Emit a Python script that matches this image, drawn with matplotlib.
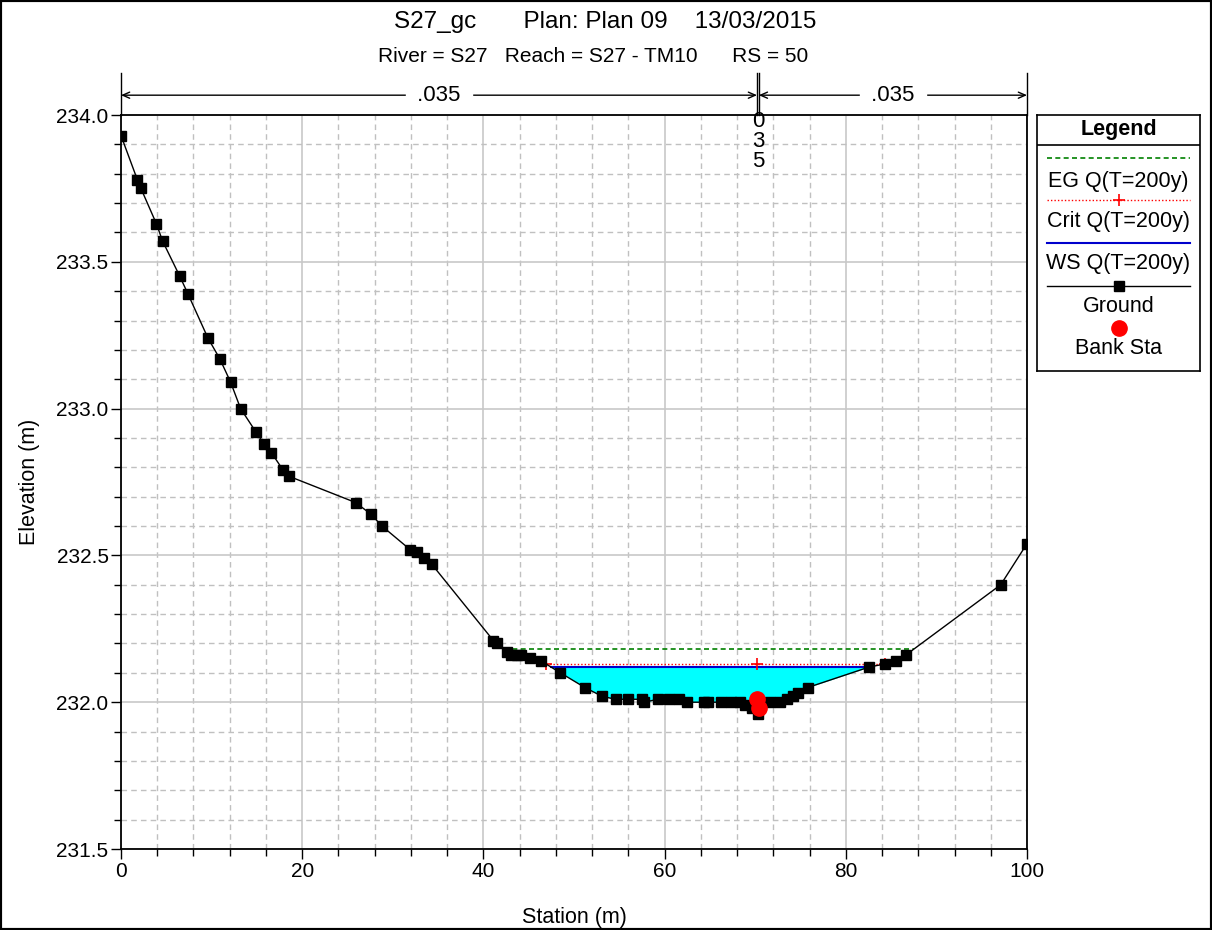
import numpy as np
import matplotlib
matplotlib.use('Agg')
import matplotlib.pyplot as plt
from matplotlib.patches import Rectangle
from matplotlib.ticker import MultipleLocator, FormatStrFormatter

plt.rcParams['font.family'] = ['Liberation Sans', 'DejaVu Sans']

# Ground profile (station m, elevation m)
sta = [0.0, 1.8, 2.2, 3.9, 4.6, 6.5, 7.4, 9.6, 10.9, 12.1, 13.2, 14.9, 15.8, 16.6,
       17.9, 18.5, 25.9, 27.6, 28.8, 31.9, 32.7, 33.4, 34.3, 41.1, 41.5, 42.6, 43.1,
       43.7, 44.2, 45.1, 46.4, 48.5, 51.2, 53.1, 54.6, 56.0, 57.5, 57.7, 59.3, 60.5,
       61.6, 62.5, 64.3, 64.8, 66.2, 67.3, 68.3, 68.9, 69.6, 70.3, 71.6, 72.7, 73.5,
       74.2, 74.7, 75.8, 82.6, 84.3, 85.5, 86.6, 97.1, 100.0]
elev = [233.93, 233.78, 233.75, 233.63, 233.57, 233.45, 233.39, 233.24, 233.17,
        233.09, 233.00, 232.92, 232.88, 232.85, 232.79, 232.77, 232.68, 232.64,
        232.60, 232.52, 232.51, 232.49, 232.47, 232.21, 232.20, 232.17, 232.16,
        232.16, 232.16, 232.15, 232.14, 232.10, 232.05, 232.02, 232.01, 232.01,
        232.01, 232.00, 232.01, 232.01, 232.01, 232.00, 232.00, 232.00, 232.00,
        232.00, 232.00, 231.99, 231.98, 231.96, 232.00, 232.00, 232.01, 232.02,
        232.03, 232.05, 232.12, 232.13, 232.14, 232.16, 232.40, 232.54]

bank_sta = [70.2, 70.4]
bank_elev = [232.01, 231.98]

ws_elev = 232.12
crit_elev = 232.13
eg_elev = 232.18
crit_sta = [46.9, 70.2, 84.3]

mann_n = ['.035', '.035', '.035']
mann_breaks = [0.0, 70.2, 70.4, 100.0]

title = 'S27_gc       Plan: Plan 09    13/03/2015'
subtitle = 'River = S27   Reach = S27 - TM10      RS = 50'

sta = np.array(sta)
elev = np.array(elev)


def wet_limits(level):
    # first/last crossing of a level around the channel low point
    i0 = np.argmin(elev)
    left = np.where(elev[:i0] >= level)[0][-1]
    right = i0 + np.where(elev[i0:] >= level)[0][0]
    xl = np.interp(level, [elev[left + 1], elev[left]], [sta[left + 1], sta[left]])
    xr = np.interp(level, [elev[right - 1], elev[right]], [sta[right - 1], sta[right]])
    return xl, xr


fig = plt.figure(figsize=(12.12, 9.3), dpi=100)
ax = fig.add_axes([121 / 1212, 1 - 849 / 930, 906 / 1212, 734 / 930])

# water fill
xl, xr = wet_limits(ws_elev)
xf = np.linspace(xl, xr, 600)
gf = np.interp(xf, sta, elev)
ax.fill_between(xf, gf, ws_elev, where=gf <= ws_elev, color='#00ffff', lw=0, zorder=2)

ax.plot([xl, xr], [ws_elev, ws_elev], color='#0000cc', lw=1.5, zorder=3)
cl, cr = wet_limits(crit_elev)
ax.plot([cl, cr], [crit_elev, crit_elev], color='red', lw=1, ls=(0, (1, 1.5)), zorder=3)
ax.plot(crit_sta, [crit_elev] * len(crit_sta), ls='none', marker='+', color='red',
        ms=9, mew=1.2, zorder=4)
el, er = wet_limits(eg_elev)
ax.plot([el, er], [eg_elev, eg_elev], color='#008000', lw=1.2, ls=(0, (3, 2)), zorder=3)

ax.plot(sta, elev, color='black', lw=1, marker='s', ms=7, zorder=5)
ax.plot(bank_sta, bank_elev, ls='none', marker='o', color='red', ms=11, zorder=6)

ax.set_xlim(0, 100)
ax.set_ylim(231.5, 234.0)
ax.xaxis.set_major_locator(MultipleLocator(20))
ax.xaxis.set_minor_locator(MultipleLocator(4))
ax.yaxis.set_major_locator(MultipleLocator(0.5))
ax.yaxis.set_minor_locator(MultipleLocator(0.1))
ax.yaxis.set_major_formatter(FormatStrFormatter('%.1f'))
ax.grid(which='major', color='#c8c8c8', lw=1.2, ls='-', zorder=0)
ax.grid(which='minor', color='#c0c0c0', lw=1, ls=(0, (4, 3)), zorder=0)
ax.set_axisbelow(True)
ax.tick_params(which='major', direction='out', length=7, labelsize=15, width=1, pad=2)
ax.tick_params(which='minor', direction='out', length=5, width=1)
for s in ax.spines.values():
    s.set_linewidth(1.3)
ax.set_xlabel('Station (m)', fontsize=15.5, labelpad=19)
ax.set_ylabel('Elevation (m)', fontsize=15.5, labelpad=12)

# Manning's n bar above the plot
tr = ax.get_xaxis_transform()
for b in mann_breaks:
    ax.plot([b, b], [1.0, 1.057], transform=tr, color='black', lw=1, clip_on=False)
segs = [(mann_breaks[0], mann_breaks[1]), (mann_breaks[2], mann_breaks[3])]
for (a, b), n in zip(segs, [mann_n[0], mann_n[2]]):
    ax.annotate('', xy=(a, 1.027), xytext=(b, 1.027), xycoords=tr, textcoords=tr,
                arrowprops=dict(arrowstyle='<->,head_length=0.5,head_width=0.22',
                                color='black', lw=1, shrinkA=0, shrinkB=0))
    ax.text((a + b) / 2, 1.027, ' ' + n + ' ', transform=tr, ha='center', va='center',
            fontsize=16, backgroundcolor='white', zorder=7)
ax.text((mann_breaks[1] + mann_breaks[2]) / 2, 1.006, '\n'.join(mann_n[1][1:]),
        transform=tr, ha='center', va='top', fontsize=16, linespacing=0.95, zorder=7)

fig.text(605 / 1212, 1 - 22 / 930, title, ha='center', va='center', fontsize=17.5)
fig.text(593 / 1212, 1 - 56 / 930, subtitle, ha='center', va='center', fontsize=15)

# legend panel
lg = fig.add_axes([1037 / 1212, 1 - 371 / 930, 163 / 1212, 256 / 930])
lg.set_xlim(0, 163)
lg.set_ylim(256, 0)
lg.set_xticks([])
lg.set_yticks([])
for s in lg.spines.values():
    s.set_linewidth(1.2)
lg.axhline(30, color='black', lw=1.2)
fs = 15.5
lg.text(81.5, 14, 'Legend', ha='center', va='center', fontsize=fs, fontweight='bold')
lg.plot([10, 153], [43, 43], color='#008000', lw=1.2, ls=(0, (3, 2)))
lg.text(81.5, 66, 'EG Q(T=200y)', ha='center', va='center', fontsize=fs)
lg.plot([10, 153], [85, 85], color='red', lw=1, ls=(0, (1, 1.5)))
lg.plot([81.5], [85], marker='+', color='red', ms=9, mew=1.2)
lg.text(81.5, 106, 'Crit Q(T=200y)', ha='center', va='center', fontsize=fs)
lg.plot([10, 153], [128, 128], color='#0000cc', lw=1.5)
lg.text(81.5, 148, 'WS Q(T=200y)', ha='center', va='center', fontsize=fs)
lg.plot([10, 153], [171, 171], color='black', lw=1)
lg.plot([81.5], [171], marker='s', color='black', ms=7)
lg.text(81.5, 191, 'Ground', ha='center', va='center', fontsize=fs)
lg.plot([81.5], [213], marker='o', color='red', ms=11)
lg.text(81.5, 233, 'Bank Sta', ha='center', va='center', fontsize=fs)

fig.patches.append(Rectangle((0, 0), 1, 1, transform=fig.transFigure, fill=False,
                             ec='black', lw=3))

fig.savefig('out.png', dpi=100)
